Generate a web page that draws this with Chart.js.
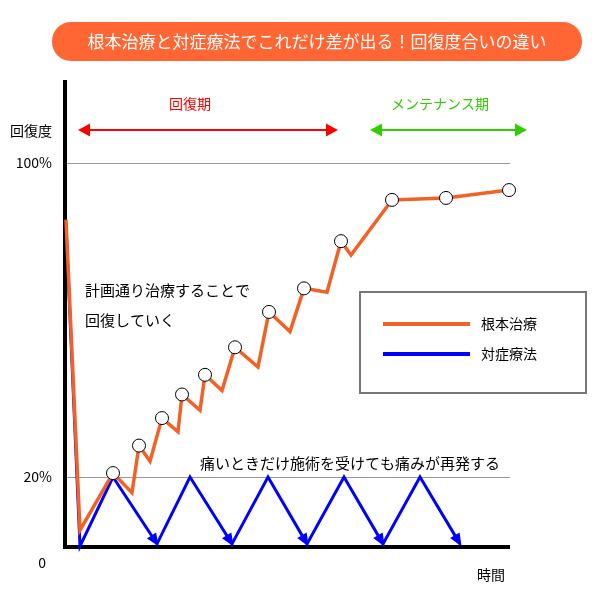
<!DOCTYPE html>
<html><head><meta charset="utf-8">
<script src="https://cdn.jsdelivr.net/npm/chart.js@4"></script>
<style>body{margin:0;background:#fff}#w{width:600px;height:612px;position:relative}</style>
</head><body><div id="w"><canvas id="c"></canvas></div>
<script>
const titleText = '根本治療と対症療法でこれだけ差が出る！回復度合いの違い';
const seriesNames = ['根本治療', '対症療法'];
const yTickValues = [20, 100];
const yTickLabels = ['20%', '100%'];
const radicalX = [66,80,113,132,139,150,162,178,182,200,205,222,235,258,269,290,304,327,341,351,392,446,509];
const radicalY = [85.5,6.5,21,16,28,24,35,31.5,41,37,46,42,53,48,62,57,68,67,80,76.5,90.5,91,93];
const radicalMarked = [0,0,1,0,1,0,1,0,1,0,1,0,1,0,1,0,1,0,1,0,1,1,1];
const symptomX = [66,80,113,157,190,232,268,307,344,383,420,460];
const symptomY = [84,2.4,20,3,20,3,20,3,20,3,20,3];
const FONT = '"Noto Sans CJK JP", sans-serif';

const pts = (xs, ys) => xs.map((x, i) => ({x, y: ys[i]}));

function arrowHead(ctx, x, y, dir, size, color) {
  ctx.save(); ctx.fillStyle = color; ctx.beginPath();
  ctx.moveTo(x, y); ctx.lineTo(x - dir*size, y - size*0.55); ctx.lineTo(x - dir*size, y + size*0.55);
  ctx.closePath(); ctx.fill(); ctx.restore();
}

const deco = {
  id: 'deco',
  beforeDatasetsDraw(chart) {
    const {ctx, scales:{x, y}} = chart;
    ctx.save();
    ctx.strokeStyle = '#999'; ctx.lineWidth = 1;
    yTickValues.forEach(v => { const py = Math.round(y.getPixelForValue(v)) + 0.5;
      ctx.beginPath(); ctx.moveTo(x.left, py); ctx.lineTo(x.right, py); ctx.stroke(); });
    ctx.fillStyle = '#000'; ctx.font = '14px ' + FONT; ctx.textAlign = 'right'; ctx.textBaseline = 'middle';
    yTickValues.forEach((v, i) => ctx.fillText(yTickLabels[i], 52, y.getPixelForValue(v)));
    ctx.fillText('0', 46, 563);
    ctx.textAlign = 'left'; ctx.fillText('回復度', 10, 131);
    ctx.fillText('時間', 477, 575);
    ctx.font = '15px ' + FONT;
    ctx.fillText('計画通り治療することで', 85, 290);
    ctx.fillText('回復していく', 85, 320);
    ctx.fillText('痛いときだけ施術を受けても痛みが再発する', 200, 463);
    ctx.strokeStyle = '#000'; ctx.lineWidth = 4;
    ctx.beginPath(); ctx.moveTo(x.left, y.top); ctx.lineTo(x.left, y.bottom); ctx.lineTo(x.right, y.bottom); ctx.stroke();
    ctx.lineWidth = 2;
    ctx.strokeStyle = '#ff0000'; ctx.beginPath(); ctx.moveTo(86,130); ctx.lineTo(330,130); ctx.stroke();
    arrowHead(ctx, 78, 130, -1, 12, '#ff0000'); arrowHead(ctx, 338, 130, 1, 12, '#ff0000');
    ctx.strokeStyle = '#33cc00'; ctx.beginPath(); ctx.moveTo(378,130); ctx.lineTo(519,130); ctx.stroke();
    arrowHead(ctx, 370, 130, -1, 12, '#33cc00'); arrowHead(ctx, 527, 130, 1, 12, '#33cc00');
    ctx.textAlign = 'center'; ctx.font = '14px ' + FONT;
    ctx.fillStyle = '#ff0000'; ctx.fillText('回復期', 190, 104);
    ctx.fillStyle = '#33cc00'; ctx.fillText('メンテナンス期', 440, 104);
    ctx.fillStyle = '#ff6633'; ctx.beginPath(); ctx.roundRect(52, 22, 530, 39, 19); ctx.fill();
    ctx.fillStyle = '#fff'; ctx.font = '17px ' + FONT; ctx.fillText(titleText, 317, 42);
    ctx.fillStyle = '#fff'; ctx.fillRect(360, 292, 226, 101);
    ctx.strokeStyle = '#777'; ctx.lineWidth = 2; ctx.strokeRect(360, 292, 226, 101);
    const cols = ['#f26126', '#0000ff'];
    seriesNames.forEach((n, i) => { const ly = 324 + i*30;
      ctx.strokeStyle = cols[i]; ctx.lineWidth = 4; ctx.beginPath(); ctx.moveTo(383, ly); ctx.lineTo(470, ly); ctx.stroke();
      ctx.fillStyle = '#000'; ctx.textAlign = 'left'; ctx.font = '14px ' + FONT; ctx.fillText(n, 481, ly); });
    ctx.restore();
  },
  afterDatasetsDraw(chart) {
    const {ctx} = chart;
    const meta = chart.getDatasetMeta(1).data;
    for (let i = 3; i < meta.length; i += 2) {
      const p = meta[i], q = meta[i-1];
      const ang = Math.atan2(p.y - q.y, p.x - q.x);
      ctx.save(); ctx.translate(p.x, p.y); ctx.rotate(ang);
      ctx.fillStyle = '#0000ff'; ctx.beginPath(); ctx.moveTo(3,0); ctx.lineTo(-10,-5.5); ctx.lineTo(-10,5.5); ctx.closePath(); ctx.fill();
      ctx.restore();
    }
  }
};

new Chart(document.getElementById('c'), {
  type: 'line',
  data: { datasets: [
    { label: seriesNames[0], data: pts(radicalX, radicalY), borderColor: '#f26126', borderWidth: 3.5, order: 0, clip: false,
      pointRadius: radicalMarked.map(m => m ? 6.5 : 0), pointBackgroundColor: '#fff', pointBorderColor: '#000', pointBorderWidth: 1, tension: 0 },
    { label: seriesNames[1], data: pts(symptomX, symptomY), borderColor: '#0000ff', borderWidth: 3, order: 1, clip: false, pointRadius: 0, tension: 0 }
  ]},
  options: {
    responsive: true, maintainAspectRatio: false, animation: false,
    layout: { padding: { left: 65, right: 90, top: 80, bottom: 65 } },
    plugins: { legend: { display: false }, tooltip: { enabled: false } },
    scales: {
      x: { type: 'linear', min: 65, max: 510, display: false },
      y: { min: 2.2, max: 121, display: false }
    }
  },
  plugins: [deco]
});
</script></body></html>
